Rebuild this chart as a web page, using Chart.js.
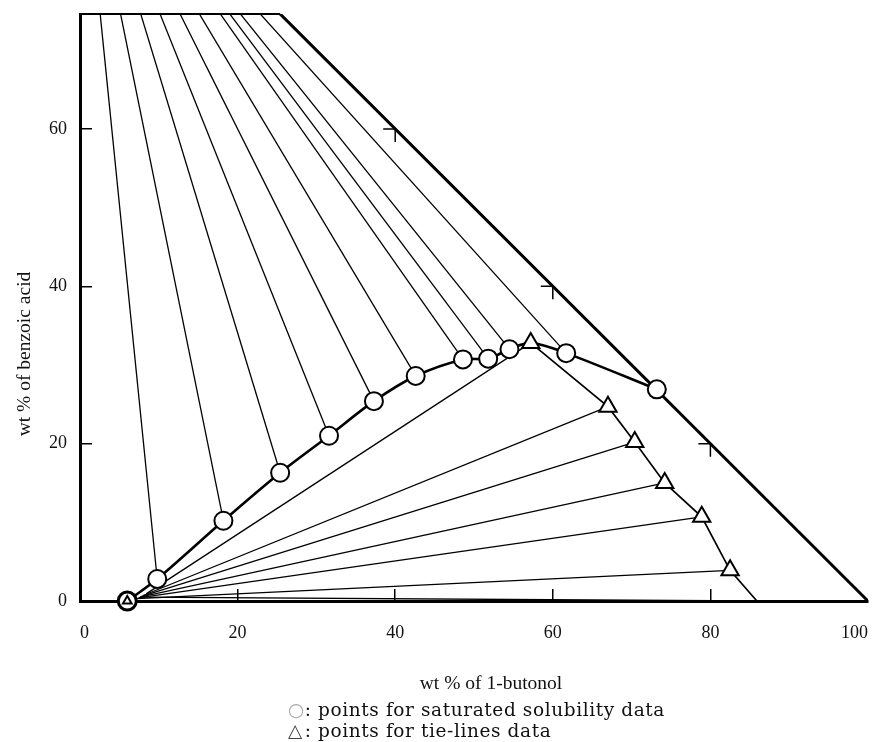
<!DOCTYPE html>
<html>
<head>
<meta charset="utf-8">
<script src="https://cdn.jsdelivr.net/npm/chart.js@4"></script>
<style>
html, body { margin: 0; padding: 0; background: #fff; }
</style>
</head>
<body>
<canvas id="chart" width="872" height="742"></canvas>
<script>
// saturated solubility points (circles), wt% 1-butanol / wt% benzoic acid
const circleX = [6.0, 9.8, 18.2, 25.4, 31.6, 37.3, 42.6, 48.6, 51.8, 54.5, 61.7, 73.2];
const circleY = [0.0, 2.8, 10.2, 16.3, 21.0, 25.4, 28.6, 30.7, 30.8, 32.0, 31.5, 26.9];

// tie-lines: organic phase (triangles) and aqueous phase ends
const triX = [57.2, 67.0, 70.4, 74.2, 78.9, 82.5];
const triY = [32.8, 24.7, 20.2, 15.0, 10.7, 3.9];
const aqX = [8.4, 8.0, 7.8, 7.6, 7.4, 7.2];
const aqY = [0.9, 0.7, 0.6, 0.5, 0.4, 0.3];

const binodalEnd = {x: 85.9, y: 0};
const binaryAq = {x: 7.6, y: 0.5};
const acidVertex = {x: 0, y: 100};
const butanolVertex = {x: 100, y: 0};

const xTicks = [0, 20, 40, 60, 80, 100];
const yTicks = [0, 20, 40, 60];
const hypTicks = [40, 60, 80];
const yMax = 74.6;

const serif = '"Liberation Serif", "Times New Roman", serif';

const pts = (xs, ys) => xs.map((x, i) => ({x: x, y: ys[i]}));

const circles = pts(circleX, circleY);
const triangles = pts(triX, triY);

// solubility curve runs through the circles and the top tie-line point
const curve = circles.concat([triangles[0]]).sort((a, b) => a.x - b.x);

function lineSet(data, width, extra) {
	return Object.assign({
		data: data,
		showLine: true,
		borderColor: '#000',
		borderWidth: width,
		pointRadius: 0,
		fill: false,
		order: 2
	}, extra || {});
}

let datasets = [
	{
		data: circles.slice(1),
		pointStyle: 'circle',
		pointRadius: 9,
		pointBorderWidth: 2,
		pointBorderColor: '#000',
		pointBackgroundColor: '#fff',
		showLine: false,
		clip: false,
		order: 0
	},
	{
		data: [circles[0]],
		pointStyle: 'circle',
		pointRadius: 9,
		pointBorderWidth: 3,
		pointBorderColor: '#000',
		pointBackgroundColor: '#fff',
		showLine: false,
		clip: false,
		order: 1
	},
	{
		data: [circles[0]],
		pointStyle: 'triangle',
		pointRadius: 5,
		pointBorderWidth: 2,
		pointBorderColor: '#000',
		pointBackgroundColor: '#fff',
		showLine: false,
		clip: false,
		order: 0
	},
	{
		data: triangles,
		pointStyle: 'triangle',
		pointRadius: 10,
		pointBorderWidth: 2,
		pointBorderColor: '#000',
		pointBackgroundColor: '#fff',
		showLine: false,
		clip: false,
		order: 0
	},
	lineSet(curve, 2.6, {tension: 0.3, clip: false}),
	lineSet([triangles[0]].concat(triangles.slice(1), [binodalEnd]), 1.7, {clip: false}),
	lineSet([butanolVertex, acidVertex], 3, {clip: 0}),
	lineSet([{x: 0, y: yMax}, {x: 100 - yMax, y: yMax}], 2, {clip: false}),
	lineSet([binaryAq, binodalEnd], 1.3, {clip: false})
];

// tie-lines of the liquid-liquid region
triangles.forEach((t, i) => {
	datasets.push(lineSet([{x: aqX[i], y: aqY[i]}, t], 1.3, {clip: false}));
});

// lines from saturated points towards pure benzoic acid
circles.slice(1).forEach(c => {
	datasets.push(lineSet([c, acidVertex], 1.3, {clip: 0}));
});

const textPlugin = {
	id: 'textPlugin',
	afterDraw(chart) {
		const ctx = chart.ctx;
		const sx = chart.scales.x, sy = chart.scales.y;
		ctx.save();
		ctx.strokeStyle = '#000';
		ctx.lineWidth = 1.5;
		// ternary ticks on the hypotenuse
		hypTicks.forEach(v => {
			const px = sx.getPixelForValue(v);
			const py = sy.getPixelForValue(100 - v);
			ctx.beginPath();
			ctx.moveTo(px - 12, py);
			ctx.lineTo(px, py);
			ctx.moveTo(px, py);
			ctx.lineTo(px, py + 13);
			ctx.stroke();
		});

		ctx.fillStyle = '#111';
		ctx.font = '19.5px ' + serif;
		ctx.textAlign = 'center';
		ctx.textBaseline = 'middle';
		ctx.fillText('wt % of 1-butonol', 491, 684);

		ctx.save();
		ctx.translate(25, 354);
		ctx.rotate(-Math.PI / 2);
		ctx.fillText('wt % of benzoic acid', 0, 0);
		ctx.restore();

		// legend, right edge of the first line at 665
		const line1 = ': points for saturated solubility data';
		const line2 = ': points for tie-lines data';
		ctx.textAlign = 'left';
		ctx.textBaseline = 'alphabetic';
		ctx.font = '18.5px "DejaVu Serif", serif';
		ctx.letterSpacing = '0.6px';
		const symW = ctx.measureText('○').width;
		const x0 = 665 - ctx.measureText(line1).width - symW;
		ctx.fillStyle = '#aaa';
		ctx.fillText('○', x0, 716);
		ctx.fillStyle = '#444';
		ctx.fillText('△', x0, 737);
		ctx.fillStyle = '#111';
		ctx.fillText(line1, x0 + symW, 716);
		ctx.fillText(line2, x0 + symW, 737);
		ctx.restore();
	}
};

const tickGrid = {
	drawOnChartArea: false,
	drawTicks: true,
	tickLength: -12,
	lineWidth: 1.5,
	color: ctx => (ctx.tick && (ctx.tick.value === 0 || ctx.tick.value === 100)) ? 'rgba(0,0,0,0)' : '#000'
};

new Chart(document.getElementById('chart'), {
	type: 'scatter',
	data: {datasets: datasets},
	options: {
		responsive: false,
		animation: false,
		layout: {autoPadding: false, padding: {top: 14, right: 4, left: 0, bottom: 0}},
		plugins: {
			legend: {display: false},
			tooltip: {enabled: false}
		},
		scales: {
			x: {
				type: 'linear',
				position: 'bottom',
				min: 0,
				max: 100,
				afterBuildTicks: s => { s.ticks = xTicks.map(v => ({value: v})); },
				afterFit: s => {
					s.height = 141;
					s.paddingLeft = 0;
					s.paddingRight = 0;
				},
				ticks: {
					align: 'inner',
					padding: 33,
					maxRotation: 0,
					autoSkip: false,
					color: '#111',
					font: {family: serif, size: 18}
				},
				grid: tickGrid,
				border: {color: '#000', width: 3}
			},
			y: {
				type: 'linear',
				position: 'left',
				min: 0,
				max: yMax,
				afterBuildTicks: s => { s.ticks = yTicks.map(v => ({value: v})); },
				afterFit: s => {
					s.width = 80;
					s.paddingTop = 0;
					s.paddingBottom = 0;
				},
				ticks: {
					padding: 25,
					color: '#111',
					font: {family: serif, size: 18}
				},
				grid: tickGrid,
				border: {color: '#000', width: 3}
			}
		}
	},
	plugins: [textPlugin]
});
</script>
</body>
</html>
